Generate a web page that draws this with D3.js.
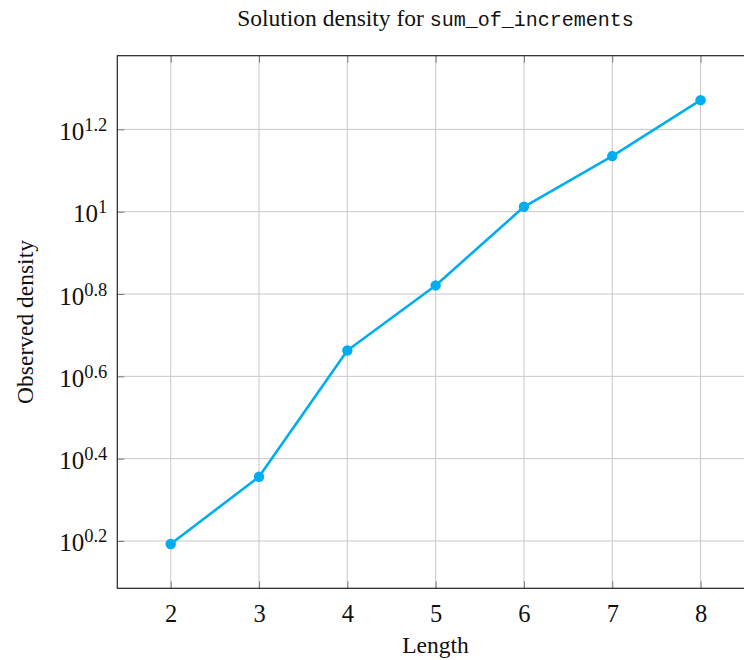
<!DOCTYPE html>
<html>
<head>
<meta charset="utf-8">
<script src="https://cdn.jsdelivr.net/npm/d3@7"></script>
<style>
  html, body { margin: 0; padding: 0; background: #fff; }
  svg { display: block; }
</style>
</head>
<body>
<svg id="chart" width="744" height="660"></svg>
<script>
// ---- data ----
const lengths = [2, 3, 4, 5, 6, 7, 8];
const densities = [1.558, 2.27, 4.60, 6.62, 10.28, 13.65, 18.66];
const xTickValues = [2, 3, 4, 5, 6, 7, 8];
const yTickExponents = [0.2, 0.4, 0.6, 0.8, 1, 1.2];
const titleText = "Solution density for ";
const titleCode = "sum_of_increments";
const xLabel = "Length";
const yLabel = "Observed density";

// ---- layout ----
(function () {
const svg = d3.select("#chart");
const pL = 117.3, pR = 754, pT = 55.7, pB = 588.3;
const serif = "'Liberation Serif', 'Times New Roman', serif";
const mono = "'Liberation Mono', 'DejaVu Sans Mono', monospace";
const lineColor = "#00aeef";

const x = d3.scaleLinear().domain([1.395, 8.605]).range([pL, pR]);
const y = d3.scaleLog().domain([Math.pow(10, 0.085), Math.pow(10, 1.379)]).range([pB, pT]);
const yTicks = yTickExponents.map(e => Math.pow(10, e));

// grid
const grid = svg.append("g");
grid.selectAll("line.v").data(xTickValues).join("line").attr("class", "v")
  .attr("x1", d => x(d)).attr("x2", d => x(d))
  .attr("y1", pT).attr("y2", pB)
  .attr("stroke", "#c8c8c8").attr("stroke-width", 1);
grid.selectAll("line.h").data(yTicks).join("line").attr("class", "h")
  .attr("x1", pL).attr("x2", pR)
  .attr("y1", d => y(d)).attr("y2", d => y(d))
  .attr("stroke", "#c8c8c8").attr("stroke-width", 1);

const tickLen = 7;
const xAxis = svg.append("g").attr("transform", `translate(0,${pB})`)
  .call(d3.axisBottom(x).tickValues(xTickValues).tickSize(-tickLen).tickSizeOuter(0).tickPadding(16));
const xAxisTop = svg.append("g").attr("transform", `translate(0,${pT})`)
  .call(d3.axisTop(x).tickValues(xTickValues).tickSize(-tickLen).tickSizeOuter(0).tickFormat(""));
const yAxis = svg.append("g").attr("transform", `translate(${pL},0)`)
  .call(d3.axisLeft(y).tickValues(yTicks).tickSize(-tickLen).tickSizeOuter(0).tickPadding(10));
const yAxisRight = svg.append("g").attr("transform", `translate(${pR},0)`)
  .call(d3.axisRight(y).tickValues(yTicks).tickSize(-tickLen).tickSizeOuter(0).tickFormat(""));

[xAxis, xAxisTop, yAxis, yAxisRight].forEach(g => {
  g.select(".domain").remove();
  g.selectAll(".tick line").attr("stroke", "#7a7a7a").attr("stroke-width", 1);
});

xAxis.selectAll(".tick text")
  .attr("font-family", serif).attr("font-size", 24.5).attr("fill", "#111");

yAxis.selectAll(".tick text").each(function (d, i) {
  const t = d3.select(this);
  const e = yTickExponents[i];
  t.text("").attr("font-family", serif).attr("fill", "#111").attr("dy", 10);
  t.append("tspan").attr("font-size", 25).text("10");
  t.append("tspan").attr("font-size", 18.5).attr("dy", -9).text(e === 1 ? "1" : String(e));
});

// frame
svg.append("rect").attr("x", pL).attr("y", pT)
  .attr("width", pR - pL).attr("height", pB - pT)
  .attr("fill", "none").attr("stroke", "#222").attr("stroke-width", 1.2);

// line
const pts = lengths.map((l, i) => [l, densities[i]]);
svg.append("path").datum(pts)
  .attr("fill", "none").attr("stroke", lineColor).attr("stroke-width", 2.6)
  .attr("stroke-linejoin", "round")
  .attr("d", d3.line().x(d => x(d[0])).y(d => y(d[1])));
svg.append("g").selectAll("circle").data(pts).join("circle")
  .attr("cx", d => x(d[0])).attr("cy", d => y(d[1])).attr("r", 5.2)
  .attr("fill", lineColor);

// title
const title = svg.append("text").attr("x", 435.5).attr("y", 26)
  .attr("text-anchor", "middle").attr("fill", "#111");
title.append("tspan").attr("font-family", serif).attr("font-size", 23.5).text(titleText);
title.append("tspan").attr("font-family", mono).attr("font-size", 20).text(titleCode);

// axis labels
svg.append("text").attr("x", 435.5).attr("y", 653)
  .attr("text-anchor", "middle").attr("font-family", serif).attr("font-size", 23.5).attr("fill", "#111")
  .text(xLabel);
svg.append("text").attr("transform", `translate(33,${(pT + pB) / 2}) rotate(-90)`)
  .attr("text-anchor", "middle").attr("font-family", serif).attr("font-size", 23.5).attr("fill", "#111")
  .text(yLabel);
})();
</script>
</body>
</html>
